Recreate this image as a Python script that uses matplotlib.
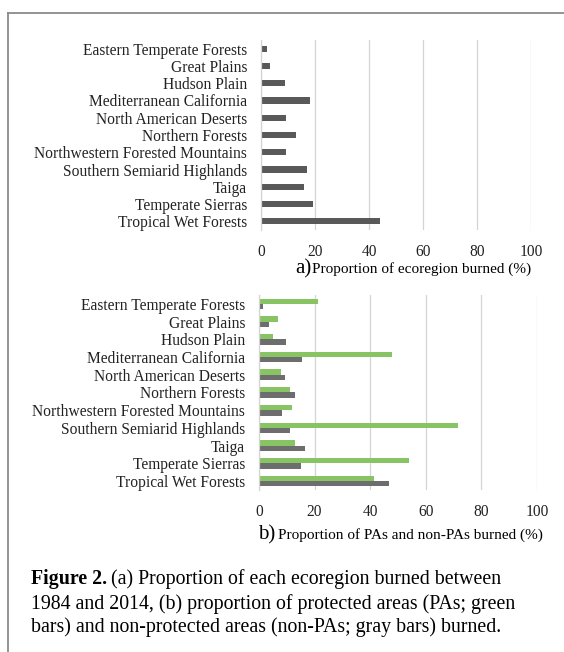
import numpy as np
import matplotlib.pyplot as plt
from matplotlib.lines import Line2D

plt.rcParams['font.family'] = ['Liberation Serif', 'DejaVu Serif']

ecoregions = ["Eastern Temperate Forests", "Great Plains", "Hudson Plain",
              "Mediterranean California", "North American Deserts", "Northern Forests",
              "Northwestern Forested Mountains", "Southern Semiarid Highlands",
              "Taiga", "Temperate Sierras", "Tropical Wet Forests"]

# a) proportion of each ecoregion burned (%)
burned_total = [2.2, 3.5, 8.9, 18.0, 9.3, 12.8, 9.1, 17.2, 15.9, 19.4, 44.1]
# b) proportion of PAs (green) and non-PAs (gray) burned (%)
burned_pa = [21.2, 6.8, 5.0, 47.9, 7.9, 11.2, 11.9, 71.7, 13.0, 54.0, 41.4]
burned_nonpa = [1.3, 3.5, 9.7, 15.5, 9.4, 13.0, 8.4, 11.2, 16.4, 15.1, 46.9]
xticks = [0, 20, 40, 60, 80, 100]

W, H = 564, 652
fig = plt.figure(figsize=(W / 100, H / 100), dpi=100)

def px_axes(x0, y0, x1, y1):
    return fig.add_axes([x0 / W, 1 - y1 / H, (x1 - x0) / W, (y1 - y0) / H])

def style(ax):
    ax.set_xlim(0, 100)
    ax.set_ylim(len(ecoregions) - 0.5, -0.5)
    ax.set_xticks(xticks)
    ax.set_yticks(np.arange(len(ecoregions)))
    ax.set_yticklabels(ecoregions)
    ax.tick_params(length=0, labelsize=11.2, colors="#222222", pad=10)
    ax.tick_params(axis="x", pad=10)
    ax.grid(axis="x", color="#d4d4d4", linewidth=0.9)
    ax.set_axisbelow(True)
    for s in ["top", "right", "bottom"]:
        ax.spines[s].set_visible(False)
    ax.spines["left"].set_color("#d4d4d4")
    ax.spines["left"].set_linewidth(0.9)

y = np.arange(len(ecoregions))

ax1 = px_axes(261, 40, 531, 230)
ax1.barh(y, burned_total, height=0.36, color="#595959")
style(ax1)

ax2 = px_axes(259, 295, 537, 490)
ax2.barh(y - 0.15, burned_pa, height=0.3, color="#88c464")
ax2.barh(y + 0.15, burned_nonpa, height=0.3, color="#6d6d6d")
style(ax2)

# axis titles with large panel letter
fig.text(295 / W, 1 - 269 / H, "a)", fontsize=15, va="center", ha="left")
fig.text(312 / W, 1 - 269 / H, "Proportion of ecoregion burned (%)", fontsize=11, va="center", ha="left")
fig.text(258 / W, 1 - 535 / H, "b)", fontsize=15, va="center", ha="left")
fig.text(278 / W, 1 - 535 / H, "Proportion of PAs and non-PAs burned (%)", fontsize=11, va="center", ha="left")

# caption
cap_size = 14.3
head = fig.text(31 / W, 1 - 579 / H, "Figure 2.", fontsize=cap_size, fontweight="bold",
                va="center", ha="left")
bb = head.get_window_extent(renderer=fig.canvas.get_renderer())
fig.text((bb.x1 + 4) / W, 1 - 579 / H, "(a) Proportion of each ecoregion burned between",
         fontsize=cap_size, va="center", ha="left")
fig.text(31 / W, 1 - 604 / H, "1984 and 2014, (b) proportion of protected areas (PAs; green",
         fontsize=cap_size, va="center", ha="left")
fig.text(31 / W, 1 - 627 / H, "bars) and non-protected areas (non-PAs; gray bars) burned.",
         fontsize=cap_size, va="center", ha="left")

# frame lines
fig.add_artist(Line2D([8 / W, 1], [1 - 13 / H, 1 - 13 / H], color="#8a8a8a", linewidth=1.3))
fig.add_artist(Line2D([8 / W, 8 / W], [1 - 13 / H, 0], color="#8a8a8a", linewidth=1.3))

fig.savefig("out.png", dpi=100)
